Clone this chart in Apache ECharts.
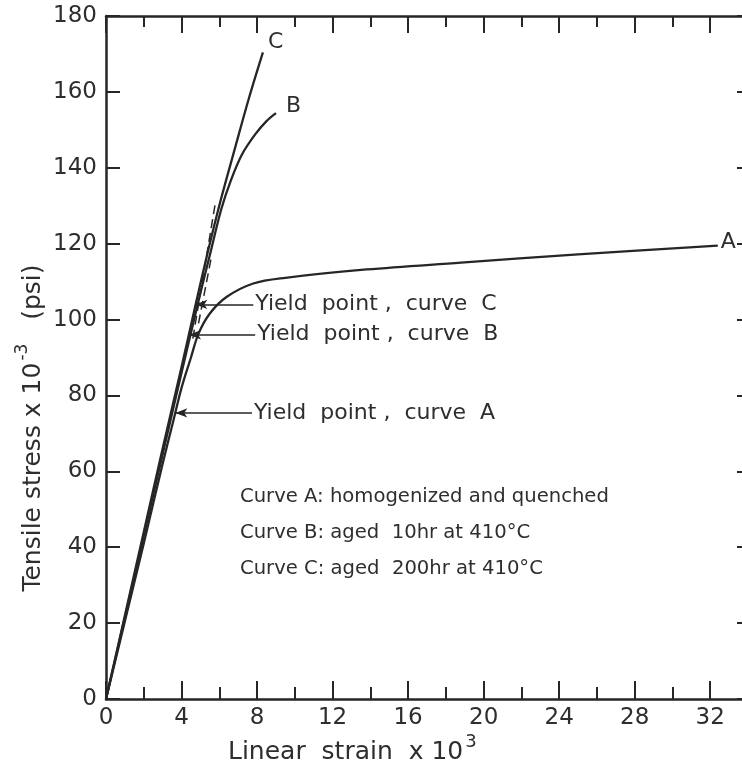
<!DOCTYPE html>
<html>
<head>
<meta charset="utf-8">
<script src="https://cdn.jsdelivr.net/npm/echarts@6/dist/echarts.min.js"></script>
<style>html,body{margin:0;padding:0;background:#fff}#c{width:742px;height:774px}</style>
</head>
<body>
<div id="c"></div>
<script>
// ---- data ----
const xTicks = [0, 4, 8, 12, 16, 20, 24, 28, 32];
const yTicks = [0, 20, 40, 60, 80, 100, 120, 140, 160, 180];

const strainA = [0, 1, 2, 3, 3.6, 4.0, 4.5, 4.9, 5.5, 6.4, 7.8, 9.5, 13.8, 18.8, 25, 32.4];
const stressA = [0, 20.5, 41, 62, 74, 82, 90, 96.3, 101.6, 106, 109.5, 111, 113.2, 115, 117.2, 119.5];

const strainB = [0, 1, 2, 3, 4, 4.5, 5.0, 5.5, 6.1, 6.6, 7.2, 7.9, 8.5, 9.0];
const stressB = [0, 21.5, 43, 64.5, 86, 96.5, 107, 117, 129, 136.5, 143.5, 148.8, 152.3, 154.4];

const strainC = [0, 1, 2, 3, 4, 4.75, 5.4, 6.05, 6.85, 7.55, 8.31];
const stressC = [0, 22, 44, 66, 87.5, 104, 118, 131, 145.5, 158, 170.4];

const dash1Strain = [4.6, 5.8];
const dash1Stress = [95, 131];
const dash2Strain = [4.9, 5.6];
const dash2Stress = [99, 117];

const yieldLabels = ['Yield  point ,  curve  C', 'Yield  point ,  curve  B', 'Yield  point ,  curve  A'];
const yieldStart = [[4.73, 104], [4.4, 96], [3.67, 75.4]];
const yieldEndStrain = [7.8, 7.9, 7.73];

const curveNames = ['A', 'B', 'C'];
const noteLines = [
  'Curve A: homogenized and quenched',
  'Curve B: aged  10hr at 410°C',
  'Curve C: aged  200hr at 410°C'
];

// ---- chart ----
const zip = (xs, ys) => xs.map((x, i) => [x, ys[i]]);
const INK = '#262626';
const FONT = 'DejaVu Sans';

const chart = echarts.init(document.getElementById('c'), null, {renderer: 'canvas'});

const axisCommon = {
  type: 'value', min: 0, max: 34, interval: 4,
  axisLine: {show: true, onZero: false, lineStyle: {color: INK, width: 2.5}},
  splitLine: {show: false}
};

const lineSeries = (name, data, labelOffset) => ({
  type: 'line', name, data, showSymbol: false, smooth: 0.35,
  lineStyle: {color: INK, width: 2.3},
  endLabel: {show: true, formatter: name, color: '#2e2e2e', fontFamily: FONT, fontSize: 22, offset: labelOffset, distance: 0},
  z: 3, silent: true
});

const option = {
  backgroundColor: '#fff',
  animation: false,
  grid: {left: 106, right: -6, top: 16, bottom: 75, outerBoundsMode: 'none'},
  xAxis: [
    Object.assign({}, axisCommon, {
      position: 'bottom',
      axisTick: {show: true, inside: true, length: 18, lineStyle: {color: INK, width: 2}},
      minorTick: {show: true, splitNumber: 2, length: 12, lineStyle: {color: INK, width: 2}},
      axisLabel: {show: true, color: '#2e2e2e', fontFamily: FONT, fontSize: 23, margin: 8,
        formatter: v => xTicks.indexOf(v) >= 0 ? String(v) : ''}
    }),
    Object.assign({}, axisCommon, {
      position: 'top',
      axisTick: {show: true, inside: true, length: 17, lineStyle: {color: INK, width: 2}},
      minorTick: {show: true, splitNumber: 2, length: 11, lineStyle: {color: INK, width: 2}},
      axisLabel: {show: false}
    })
  ],
  yAxis: [
    {
      type: 'value', min: 0, max: 180, interval: 20, position: 'left',
      axisLine: {show: true, onZero: false, lineStyle: {color: INK, width: 2.5}},
      axisTick: {show: true, inside: true, length: 14, lineStyle: {color: INK, width: 2}},
      splitLine: {show: false},
      axisLabel: {show: true, color: '#2e2e2e', fontFamily: FONT, fontSize: 23, margin: 9,
        formatter: v => yTicks.indexOf(v) >= 0 ? String(v) : ''}
    },
    {
      type: 'value', min: 0, max: 180, interval: 20, position: 'right',
      axisLine: {show: true, onZero: false, lineStyle: {color: INK, width: 2.5}},
      axisTick: {show: true, inside: true, length: 11, lineStyle: {color: INK, width: 2}},
      splitLine: {show: false},
      axisLabel: {show: false}
    }
  ],
  series: [
    lineSeries(curveNames[0], zip(strainA, stressA), [3, -3]),
    lineSeries(curveNames[1], zip(strainB, stressB), [10, -7]),
    lineSeries(curveNames[2], zip(strainC, stressC), [5, -10]),
    {type: 'line', data: zip(dash1Strain, dash1Stress), showSymbol: false,
      lineStyle: {color: INK, width: 1.5, type: [9, 5]}, silent: true},
    {type: 'line', data: zip(dash2Strain, dash2Stress), showSymbol: false,
      lineStyle: {color: INK, width: 1.5, type: [9, 5]}, silent: true},
    {
      type: 'line', data: [], silent: true,
      markLine: {
        silent: true, animation: false,
        symbol: ['arrow', 'none'], symbolSize: [7, 12],
        lineStyle: {color: INK, width: 1.5, type: 'solid'},
        label: {show: true, position: 'end', distance: 2, color: '#2e2e2e', fontFamily: FONT, fontSize: 22,
          formatter: p => p.name},
        data: yieldLabels.map((name, i) => [
          {name, coord: yieldStart[i]},
          {coord: [yieldEndStrain[i], yieldStart[i][1]]}
        ])
      }
    }
  ],
  graphic: [
    {
      type: 'text', left: 228, top: 733, silent: true,
      style: {
        text: '{t|Linear  strain  x 10}{s|3}',
        rich: {
          t: {fontFamily: FONT, fontSize: 25, fill: '#2e2e2e', padding: [10, 0, 0, 0]},
          s: {fontFamily: FONT, fontSize: 18, fill: '#2e2e2e', padding: [0, 0, 10, 2]}
        }
      }
    },
    {
      type: 'text', x: 28, y: 428, rotation: Math.PI / 2, silent: true,
      style: {
        text: '{t|Tensile stress x 10}{s|-3}{t|   (psi)}',
        align: 'center', verticalAlign: 'middle',
        rich: {
          t: {fontFamily: FONT, fontSize: 25, fill: '#2e2e2e', padding: [10, 0, 0, 0]},
          s: {fontFamily: FONT, fontSize: 17, fill: '#2e2e2e', padding: [0, 0, 10, 2]}
        }
      }
    }
  ].concat(noteLines.map((t, i) => ({
    type: 'text', left: 240, top: 487 + i * 36, silent: true,
    style: {text: t, fontFamily: FONT, fontSize: 19.6, fill: '#2e2e2e'}
  })))
};

chart.setOption(option);
</script>
</body>
</html>
